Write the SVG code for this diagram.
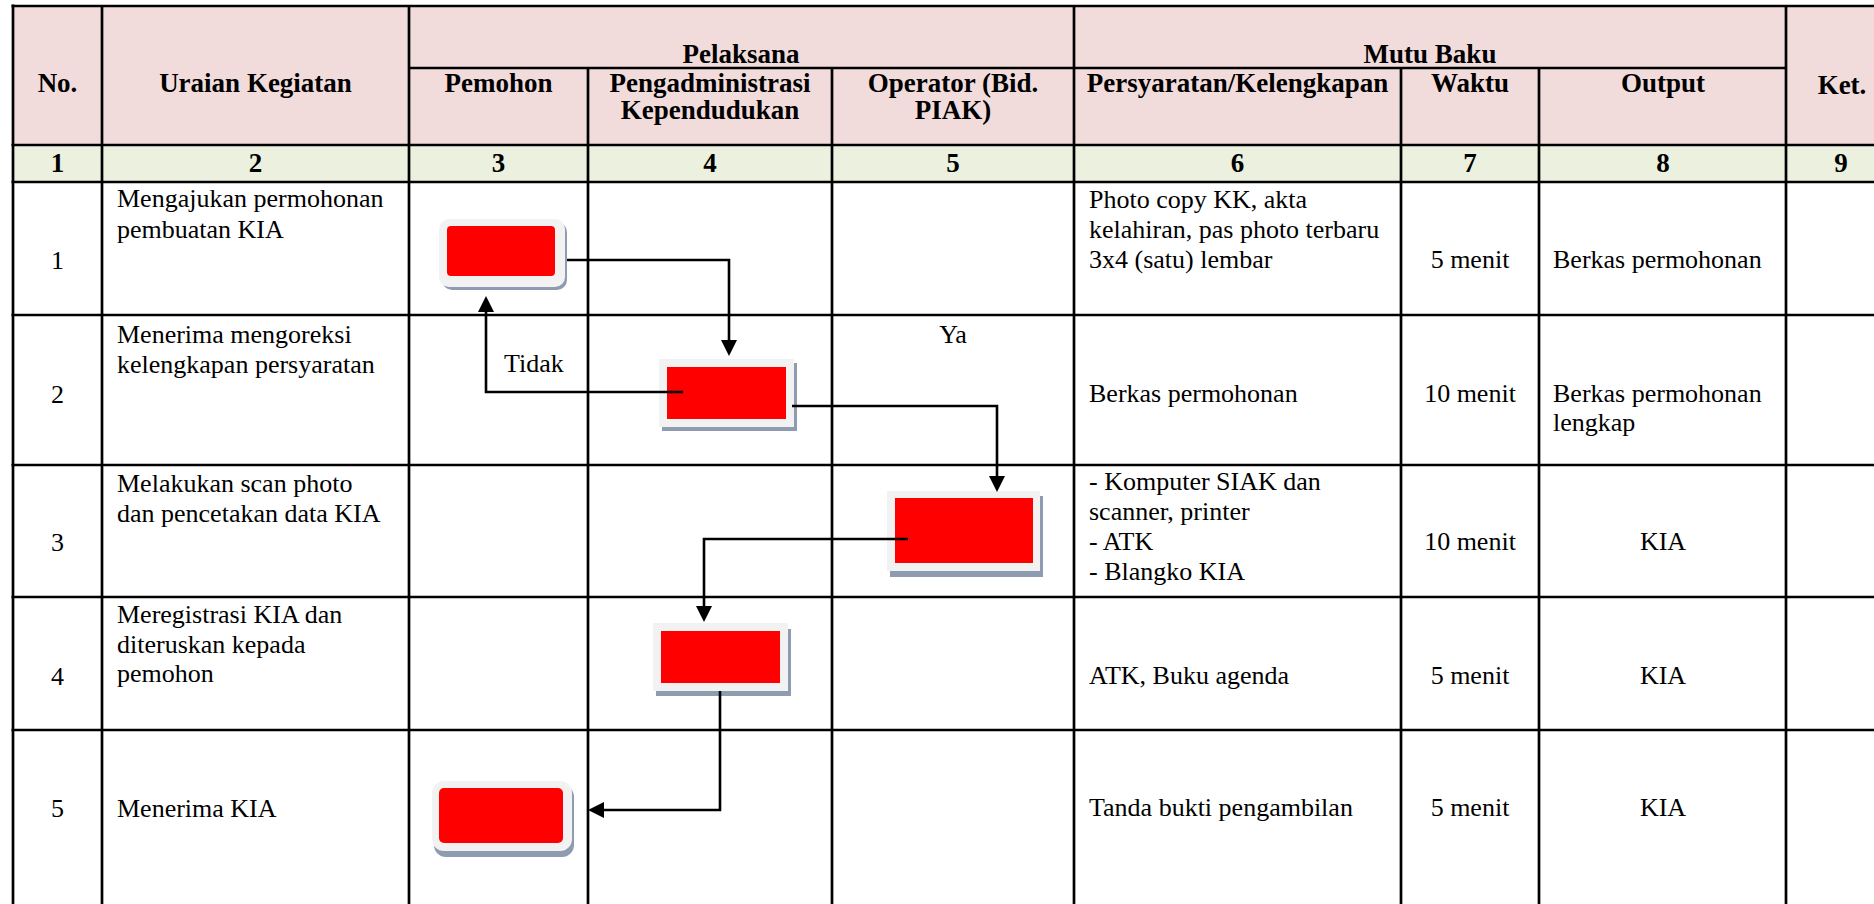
<svg xmlns="http://www.w3.org/2000/svg" width="1874" height="904" viewBox="0 0 1874 904">
<style>
text{font-family:"Liberation Serif","Times New Roman",serif;fill:#000}
.h{font-size:27px;font-weight:bold;text-anchor:middle}
.b{font-size:26px}
.c{text-anchor:middle}
.grid line{stroke:#000;stroke-width:2.7}
.shadow{fill:#8e9bb0}
.frame{fill:#f2f2f2}
.fill{fill:#ff0000}
.conn path{fill:none;stroke:#000;stroke-width:2.6}
</style>
<defs>
<marker id="arr" markerUnits="userSpaceOnUse" markerWidth="16" markerHeight="16" refX="12" refY="8" orient="auto">
<path d="M0,0 L16,8 L0,16 z" fill="#000"/>
</marker>
</defs>
<rect width="1874" height="904" fill="#fff"/>
<g id="table">
<rect x="13" y="6" width="1861" height="139" fill="#f2dcdb"/>
<rect x="13" y="145" width="1861" height="37" fill="#ebf1de"/>
<g class="grid">
<line x1="11.5" y1="6" x2="1874" y2="6"/>
<line x1="409" y1="68" x2="1787" y2="68"/>
<line x1="11.5" y1="145" x2="1874" y2="145"/>
<line x1="11.5" y1="182" x2="1874" y2="182"/>
<line x1="11.5" y1="315" x2="1874" y2="315"/>
<line x1="11.5" y1="465" x2="1874" y2="465"/>
<line x1="11.5" y1="597" x2="1874" y2="597"/>
<line x1="11.5" y1="730" x2="1874" y2="730"/>
<line x1="13" y1="4.5" x2="13" y2="904"/>
<line x1="102" y1="6" x2="102" y2="904"/>
<line x1="409" y1="6" x2="409" y2="904"/>
<line x1="588" y1="68" x2="588" y2="904"/>
<line x1="832" y1="68" x2="832" y2="904"/>
<line x1="1074" y1="6" x2="1074" y2="904"/>
<line x1="1401" y1="68" x2="1401" y2="904"/>
<line x1="1539" y1="68" x2="1539" y2="904"/>
<line x1="1786" y1="6" x2="1786" y2="904"/>
</g>
<text class="h" x="57.5" y="92">No.</text>
<text class="h" x="255.5" y="92">Uraian Kegiatan</text>
<text class="h" x="741" y="63">Pelaksana</text>
<text class="h" x="498.5" y="92">Pemohon</text>
<text class="h" x="710" y="92">Pengadministrasi</text>
<text class="h" x="710" y="119">Kependudukan</text>
<text class="h" x="953" y="92">Operator (Bid.</text>
<text class="h" x="953" y="119">PIAK)</text>
<text class="h" x="1430" y="63">Mutu Baku</text>
<text class="h" x="1237.5" y="92">Persyaratan/Kelengkapan</text>
<text class="h" x="1470" y="92">Waktu</text>
<text class="h" x="1663" y="92">Output</text>
<text class="h" x="1842" y="94">Ket.</text>
<text class="h" x="57.5" y="172">1</text>
<text class="h" x="255.5" y="172">2</text>
<text class="h" x="498.5" y="172">3</text>
<text class="h" x="710" y="172">4</text>
<text class="h" x="953" y="172">5</text>
<text class="h" x="1237.5" y="172">6</text>
<text class="h" x="1470" y="172">7</text>
<text class="h" x="1663" y="172">8</text>
<text class="h" x="1841" y="172">9</text>
<!-- row 1 -->
<text class="b c" x="57.5" y="269">1</text>
<text class="b" x="117" y="207">Mengajukan permohonan</text>
<text class="b" x="117" y="238">pembuatan KIA</text>
<text class="b" x="1089" y="208">Photo copy KK, akta</text>
<text class="b" x="1089" y="238">kelahiran, pas photo terbaru</text>
<text class="b" x="1089" y="268">3x4 (satu) lembar</text>
<text class="b c" x="1470" y="268">5 menit</text>
<text class="b" x="1553" y="268">Berkas permohonan</text>
<!-- row 2 -->
<text class="b c" x="57.5" y="403">2</text>
<text class="b" x="117" y="343">Menerima mengoreksi</text>
<text class="b" x="117" y="373">kelengkapan persyaratan</text>
<text class="b" x="1089" y="402">Berkas permohonan</text>
<text class="b c" x="1470" y="402">10 menit</text>
<text class="b" x="1553" y="402">Berkas permohonan</text>
<text class="b" x="1553" y="431">lengkap</text>
<!-- row 3 -->
<text class="b c" x="57.5" y="551">3</text>
<text class="b" x="117" y="492">Melakukan scan photo</text>
<text class="b" x="117" y="522">dan pencetakan data KIA</text>
<text class="b" x="1089" y="490">- Komputer SIAK dan</text>
<text class="b" x="1089" y="520">scanner, printer</text>
<text class="b" x="1089" y="550">- ATK</text>
<text class="b" x="1089" y="580">- Blangko KIA</text>
<text class="b c" x="1470" y="550">10 menit</text>
<text class="b c" x="1663" y="550">KIA</text>
<!-- row 4 -->
<text class="b c" x="57.5" y="685">4</text>
<text class="b" x="117" y="623">Meregistrasi KIA dan</text>
<text class="b" x="117" y="653">diteruskan kepada</text>
<text class="b" x="117" y="682">pemohon</text>
<text class="b" x="1089" y="684">ATK, Buku agenda</text>
<text class="b c" x="1470" y="684">5 menit</text>
<text class="b c" x="1663" y="684">KIA</text>
<!-- row 5 -->
<text class="b c" x="57.5" y="817">5</text>
<text class="b" x="117" y="817">Menerima KIA</text>
<text class="b" x="1089" y="816">Tanda bukti pengambilan</text>
<text class="b c" x="1470" y="816">5 menit</text>
<text class="b c" x="1663" y="816">KIA</text>
</g>
<g id="node1">
<rect class="shadow" x="442" y="222" width="125" height="68" rx="10"/>
<rect class="frame" x="439" y="219" width="126" height="68" rx="10"/>
<rect class="fill" x="447" y="226" width="108" height="50" rx="4"/>
</g>
<g id="node2">
<rect class="shadow" x="662" y="363" width="135" height="68"/>
<rect class="frame" x="659" y="359" width="135" height="68"/>
<rect class="fill" x="667" y="367" width="119" height="52"/>
</g>
<g id="node3">
<rect class="shadow" x="890" y="496" width="153" height="81"/>
<rect class="frame" x="887" y="491" width="153" height="80"/>
<rect class="fill" x="895" y="498" width="138" height="65"/>
</g>
<g id="node4">
<rect class="shadow" x="656" y="629" width="135" height="67"/>
<rect class="frame" x="653" y="623" width="135" height="68"/>
<rect class="fill" x="661" y="631" width="119" height="52"/>
</g>
<g id="node5">
<rect class="shadow" x="434" y="785" width="140" height="72" rx="12"/>
<rect class="frame" x="432" y="781" width="140" height="70" rx="12"/>
<rect class="fill" x="439" y="788" width="124" height="55" rx="5"/>
</g>
<g id="connectors" class="conn">
<path d="M567,260 H729 V352" marker-end="url(#arr)"/>
<path d="M683,392 H486 V300" marker-end="url(#arr)"/>
<path d="M792,406 H997 V488" marker-end="url(#arr)"/>
<path d="M908,539 H704 V618" marker-end="url(#arr)"/>
<path d="M720,691 V810 H592" marker-end="url(#arr)"/>
<text class="b" x="504" y="372">Tidak</text>
<text class="b c" x="953" y="343">Ya</text>
</g>
</svg>
